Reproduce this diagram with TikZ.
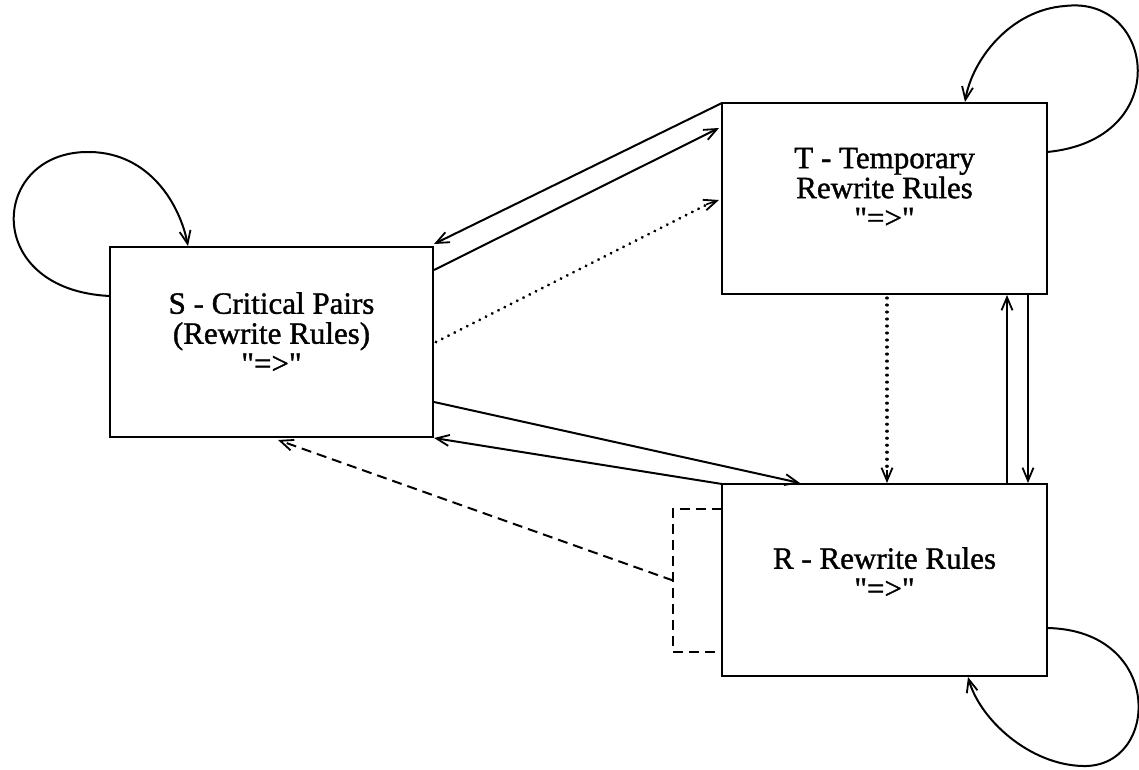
\documentclass[tikz,border=0pt]{standalone}
\usepackage{fontspec}
\setmainfont{Liberation Serif}
\newfontfamily\lblfont{Liberation Serif}[FakeBold=1.2]
\usetikzlibrary{arrows.meta,calc}
\begin{document}
\begin{tikzpicture}[x=1pt,y=-1pt,
  box/.style={draw,line width=2pt,inner sep=0pt,outer sep=0pt},
  txt/.style={align=center,inner sep=0pt,font=\lblfont\fontsize{31}{30}\selectfont},
  tip/.style={-{Straight Barb[length=13pt,width=11pt,line width=1.8pt]}},
  conn/.style={line width=2pt,tip},
  dotline/.style={line width=3.2pt,line cap=round,dash pattern=on 0.01pt off 7pt},
  dashline/.style={line width=2pt,dash pattern=on 10pt off 6pt}]
\useasboundingbox (0,0) rectangle (1139,770);
\fill[white] (0,0) rectangle (1139,770);
% boxes
\node[box,minimum width=323pt,minimum height=190pt] (S) at (271.5,342) {};
\node[box,minimum width=325pt,minimum height=191pt] (T) at (884.5,198.5) {};
\node[box,minimum width=325pt,minimum height=192pt] (R) at (884.5,580) {};
% texts
\node[txt] (St) at (271.5,333) {S - Critical Pairs\\(Rewrite Rules)\\"=>"};
\node[txt] (Tt) at (884.5,188) {T - Temporary\\Rewrite Rules\\"=>"};
\node[txt] (Rt) at (884.5,573) {R - Rewrite Rules\\"=>"};
% S <-> T
\draw[conn] (T.north west) -- ($(S.north east)+(1,-3)$);
\draw[conn] ($(S.north east)+(1,23)$) -- ($(T.north west)+(-3,25)$);
\draw[dotline] ($(S.east)+(3,0)$) -- ($(T.west)+(-14,5.5)$);
\draw[line width=1.6pt,tip] ($(T.west)+(-16,6)$) -- ($(T.west)+(-3,1.5)$);
% S <-> R
\draw[conn] ($(S.south east)+(1,-35)$) -- ($(R.north west)+(78,-1)$);
\draw[conn] (R.north west) -- ($(S.south east)+(1,1)$);
% R -> S dashed with bracket
\draw[dashline] ($(R.north west)+(0,25)$) -- ++(-49,0) coordinate (b1) -- ++(0,143) coordinate (b2) -- ++(49,0);
\coordinate (bm) at ($(b1)!0.5!(b2)$);
\draw[dashline,tip] (bm) -- ($(S.south)+(6.5,3)$);
% T <-> R vertical
\draw[dotline] ($(T.south)+(2.5,4)$) -- ($(R.north)+(2.5,-12)$);
\draw[line width=1.6pt,tip] ($(R.north)+(2.5,-14)$) -- ($(R.north)+(2.5,-1)$);
\draw[conn] ($(R.north)+(122.5,0)$) -- ($(T.south)+(122.5,1)$);
\draw[conn] ($(T.south)+(143.5,0)$) -- ($(R.north)+(143.5,-1)$);
% self loops
\draw[conn] ($(S.north west)+(0,49)$) .. controls (-20,290) and (-10,150) .. (90,152) .. controls (150,153) and (180,205) .. ($(S.north west)+(78,-1)$);
\draw[conn] ($(T.north east)+(0,49)$) .. controls (1175,140) and (1155,-5) .. (1065,6) .. controls (1010,10) and (972,60) .. ($(T.north west)+(243,-1)$);
\draw[conn] ($(R.north east)+(0,144)$) .. controls (1165,630) and (1160,768) .. (1083,766) .. controls (1030,765) and (980,720) .. ($(R.south west)+(246,1)$);
\end{tikzpicture}
\end{document}
